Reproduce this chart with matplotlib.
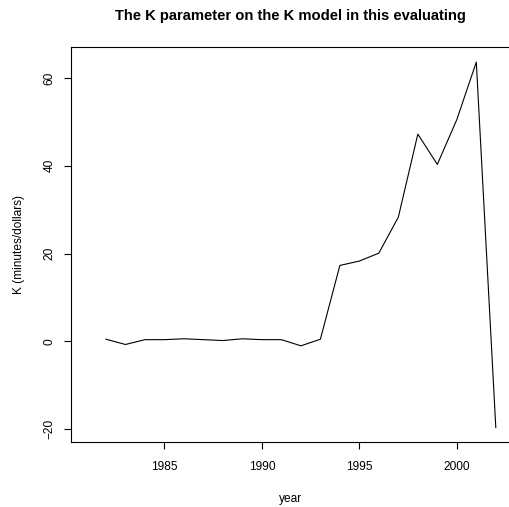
import matplotlib
matplotlib.use('Agg')
import matplotlib.pyplot as plt

# K parameter per year
years = [1982, 1983, 1984, 1985, 1986, 1987, 1988, 1989, 1990, 1991, 1992,
         1993, 1994, 1995, 1996, 1997, 1998, 1999, 2000, 2001, 2002]
k_values = [0.5, -0.7, 0.4, 0.4, 0.6, 0.4, 0.2, 0.6, 0.4, 0.4, -1.0,
            0.5, 17.3, 18.3, 20.1, 28.3, 47.2, 40.3, 50.5, 63.6, -19.6]
x_ticks = [1985, 1990, 1995, 2000]
y_ticks = [-20, 0, 20, 40, 60]

plt.rcParams['font.family'] = ['Liberation Sans', 'DejaVu Sans']

W, H = 510, 507
fig = plt.figure(figsize=(W / 100, H / 100), dpi=100)
ax = fig.add_axes([70.7 / W, 1 - 442 / H, (511 - 70.7) / W, (442 - 46.7) / H])

ax.plot(years, k_values, color='black', linewidth=0.8)
ax.set_xlim(1980.19, 2002.78)
ax.set_ylim(-22.9, 67.1)
ax.set_xticks(x_ticks)
ax.set_yticks(y_ticks)
ax.set_yticklabels([str(v).replace('-', '\u2212') for v in y_ticks],
                   rotation=90, va='center')

ax.tick_params(direction='out', length=5, width=0.8, labelsize=8.6, color='black')
ax.tick_params(axis='x', pad=9)
ax.tick_params(axis='y', pad=6)
for s in ax.spines.values():
    s.set_linewidth(0.8)

ax.set_title('The K parameter on the K model in this evaluating',
             fontsize=10.6, fontweight='bold', pad=19)
ax.set_xlabel('year', fontsize=8.6, labelpad=14)
ax.set_ylabel('K (minutes/dollars)', fontsize=8.6, labelpad=13)

fig.savefig('out.png', dpi=100)
